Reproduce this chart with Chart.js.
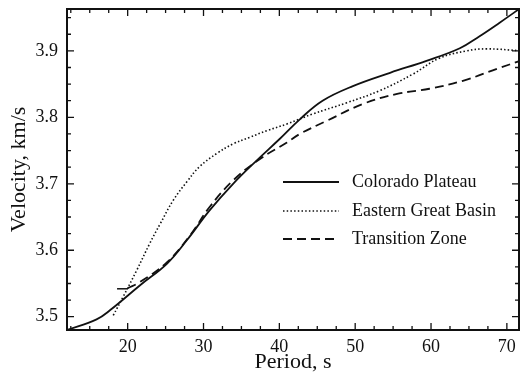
<!DOCTYPE html>
<html>
<head>
<meta charset="utf-8">
<script src="https://cdn.jsdelivr.net/npm/chart.js@4/dist/chart.umd.min.js"></script>
<style>
  html, body { margin: 0; padding: 0; background: #fff; overflow: hidden; }
  #wrap { width: 520px; height: 377px; }
</style>
</head>
<body>
<div id="wrap"><canvas id="velChart"></canvas></div>
<script>
// values
const seriesNames = ["Colorado Plateau", "Eastern Great Basin", "Transition Zone"];

const coloradoPeriod = [12, 15.9, 17.7, 21.6, 25.2, 27.8, 30.8, 33.9, 37, 40, 42.7, 45.7, 49.7, 54.6, 59.4, 63.8, 66.4, 69, 72];
const coloradoVel    = [3.48, 3.496, 3.51, 3.547, 3.58, 3.615, 3.66, 3.70, 3.735, 3.767, 3.797, 3.825, 3.847, 3.867, 3.885, 3.904, 3.922, 3.942, 3.966];

const basinPeriod = [18.1, 19.4, 21.2, 22.9, 24.3, 26, 27.8, 29.5, 31.8, 33.9, 36.1, 38.4, 41, 44.4, 48.9, 53.2, 57.6, 61.1, 64.7, 67.3, 72];
const basinVel    = [3.502, 3.53, 3.57, 3.61, 3.64, 3.675, 3.703, 3.726, 3.746, 3.76, 3.77, 3.78, 3.79, 3.805, 3.822, 3.84, 3.865, 3.889, 3.90, 3.903, 3.90];

const transPeriod = [20, 21.6, 25.2, 28.2, 30.8, 33.9, 37.4, 41, 42.7, 46.3, 51, 55.4, 59.8, 64.2, 68.7, 72];
const transVel    = [3.543, 3.552, 3.582, 3.622, 3.665, 3.705, 3.737, 3.762, 3.775, 3.795, 3.82, 3.835, 3.843, 3.855, 3.873, 3.886];

// small stray mark at the start of the transition curve
const markPeriod = [18.6, 20];
const markVel = [3.542, 3.542];

const xMajor = [20, 30, 40, 50, 60, 70];
const yMajor = [3.5, 3.6, 3.7, 3.8, 3.9];

const toPoints = (xs, ys) => xs.map((x, i) => ({ x: x, y: ys[i] }));

const SERIF = "'Liberation Serif', 'DejaVu Serif', serif";
const INK = '#111';

// box frame + inward ticks on all four sides
const frameTicks = {
  id: 'frameTicks',
  afterDraw(chart) {
    const { ctx, chartArea: a, scales } = chart;
    const xs = scales.x, ys = scales.y;
    ctx.save();
    ctx.strokeStyle = INK;
    ctx.lineWidth = 1.3;
    for (let v = 12.5; v <= xs.max; v += 2.5) {
      const px = xs.getPixelForValue(v);
      const len = (v % 10 === 0) ? 7 : 4;
      ctx.beginPath();
      ctx.moveTo(px, a.bottom); ctx.lineTo(px, a.bottom - len);
      ctx.moveTo(px, a.top); ctx.lineTo(px, a.top + len);
      ctx.stroke();
    }
    for (let k = 0; k <= 20; k++) {
      const v = 3.475 + k * 0.025;
      if (v < ys.min || v > ys.max) continue;
      const py = ys.getPixelForValue(v);
      const len = (Math.round(v * 1000) % 100 === 0) ? 7 : 4;
      ctx.beginPath();
      ctx.moveTo(a.left, py); ctx.lineTo(a.left + len, py);
      ctx.moveTo(a.right, py); ctx.lineTo(a.right - len, py);
      ctx.stroke();
    }
    ctx.lineWidth = 2;
    ctx.strokeRect(a.left, a.top, a.right - a.left, a.bottom - a.top);
    ctx.restore();
  }
};

// legend drawn inside the plot, using each dataset's own line style
const insideLegend = {
  id: 'insideLegend',
  afterDraw(chart) {
    const { ctx } = chart;
    const rows = [182, 211, 239];
    ctx.save();
    ctx.font = '18px ' + SERIF;
    ctx.fillStyle = INK;
    ctx.textBaseline = 'middle';
    for (let i = 0; i < 3; i++) {
      const ds = chart.data.datasets[i];
      ctx.strokeStyle = INK;
      ctx.lineWidth = ds.borderWidth;
      ctx.setLineDash(ds.borderDash || []);
      ctx.beginPath();
      ctx.moveTo(283, rows[i]);
      ctx.lineTo(339, rows[i]);
      ctx.stroke();
      ctx.setLineDash([]);
      ctx.fillText(ds.label, 352, rows[i]);
    }
    ctx.restore();
  }
};

const lineSet = (label, pts, width, dash) => ({
  label: label,
  data: pts,
  borderColor: INK,
  borderWidth: width,
  borderDash: dash,
  pointRadius: 0,
  fill: false,
  tension: 0.4
});

new Chart(document.getElementById('velChart'), {
  type: 'line',
  data: {
    datasets: [
      lineSet(seriesNames[0], toPoints(coloradoPeriod, coloradoVel), 1.8, []),
      lineSet(seriesNames[1], toPoints(basinPeriod, basinVel), 1.6, [1.5, 2.2]),
      lineSet(seriesNames[2], toPoints(transPeriod, transVel), 1.8, [9, 5]),
      lineSet('', toPoints(markPeriod, markVel), 1.5, [])
    ]
  },
  options: {
    responsive: true,
    maintainAspectRatio: false,
    animation: false,
    layout: { padding: { top: 9, right: 1, left: 0, bottom: 0 } },
    plugins: { legend: { display: false }, tooltip: { enabled: false } },
    scales: {
      x: {
        type: 'linear',
        min: 12,
        max: 71.6,
        afterBuildTicks: s => { s.ticks = xMajor.map(v => ({ value: v })); },
        afterFit: s => { s.height = 47; s.paddingLeft = 0; s.paddingRight = 0; },
        grid: { display: false, drawTicks: false },
        border: { display: false },
        ticks: { color: INK, font: { family: SERIF, size: 18 }, padding: 6, maxRotation: 0 },
        title: { display: true, text: 'Period, s', color: INK, font: { family: SERIF, size: 22 }, padding: { top: 0, bottom: 2 } }
      },
      y: {
        type: 'linear',
        min: 3.48,
        max: 3.963,
        afterBuildTicks: s => { s.ticks = yMajor.map(v => ({ value: v })); },
        afterFit: s => { s.width = 67; s.paddingTop = 0; s.paddingBottom = 0; },
        grid: { display: false, drawTicks: false },
        border: { display: false },
        ticks: { color: INK, font: { family: SERIF, size: 18 }, padding: 9, callback: v => v.toFixed(1) },
        title: { display: true, text: 'Velocity, km/s', color: INK, font: { family: SERIF, size: 22 }, padding: { top: 6, bottom: 0 } }
      }
    }
  },
  plugins: [frameTicks, insideLegend]
});
</script>
</body>
</html>
